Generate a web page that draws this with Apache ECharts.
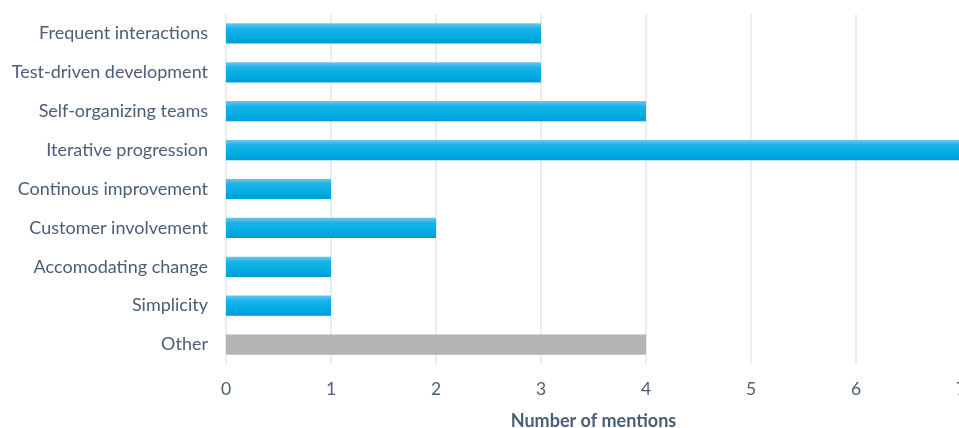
<!DOCTYPE html>
<html>
<head>
<meta charset="utf-8">
<script src="https://cdn.jsdelivr.net/npm/echarts@6/dist/echarts.min.js"></script>
<style>
    html, body { margin: 0; padding: 0; background: #fff; }
    #main { width: 959px; height: 428px; }
</style>
</head>
<body>
<div id="main"></div>
<script>
// categories top to bottom
var categories = ['Frequent interactions', 'Test-driven development', 'Self-organizing teams',
    'Iterative progression', 'Continous improvement', 'Customer involvement',
    'Accomodating change', 'Simplicity', 'Other'];
var mentions = [3, 3, 4, 7, 1, 2, 1, 1, 4];
var xTicks = [0, 1, 2, 3, 4, 5, 6, 7];

var textColor = '#4a5e75';
var blueFill = new echarts.graphic.LinearGradient(0, 0, 0, 1, [
    { offset: 0, color: '#6cc6ee' },
    { offset: 0.25, color: '#1ab4e8' },
    { offset: 0.7, color: '#00abe3' },
    { offset: 1, color: '#009bd5' }
]);

var barData = mentions.map(function (v, i) {
    return {
        value: v,
        itemStyle: { color: categories[i] === 'Other' ? '#b4b4b4' : blueFill }
    };
});

var myChart = echarts.init(document.getElementById('main'));
var option = {
    animation: false,
    textStyle: { fontFamily: 'Lato' },
    grid: {
        left: 226,
        top: 14,
        width: 735,
        height: 350,
        containLabel: false,
        outerBoundsMode: 'none'
    },
    xAxis: {
        type: 'value',
        min: xTicks[0],
        max: xTicks[xTicks.length - 1],
        interval: 1,
        axisLine: { show: false },
        axisTick: { show: false },
        splitLine: { lineStyle: { color: '#e3e8ee', width: 1.5 } },
        axisLabel: { color: textColor, fontSize: 17.5, margin: 16, showMaxLabel: true },
        name: 'Number of mentions',
        nameLocation: 'middle',
        nameGap: 48,
        nameTextStyle: { color: textColor, fontSize: 18, fontWeight: 'bold' }
    },
    yAxis: {
        type: 'category',
        inverse: true,
        data: categories,
        axisLine: { show: false },
        axisTick: { show: false },
        axisLabel: { color: textColor, fontSize: 18, margin: 18 }
    },
    series: [{
        type: 'bar',
        data: barData,
        barCategoryGap: '48%'
    }]
};
myChart.setOption(option, true);
</script>
</body>
</html>
